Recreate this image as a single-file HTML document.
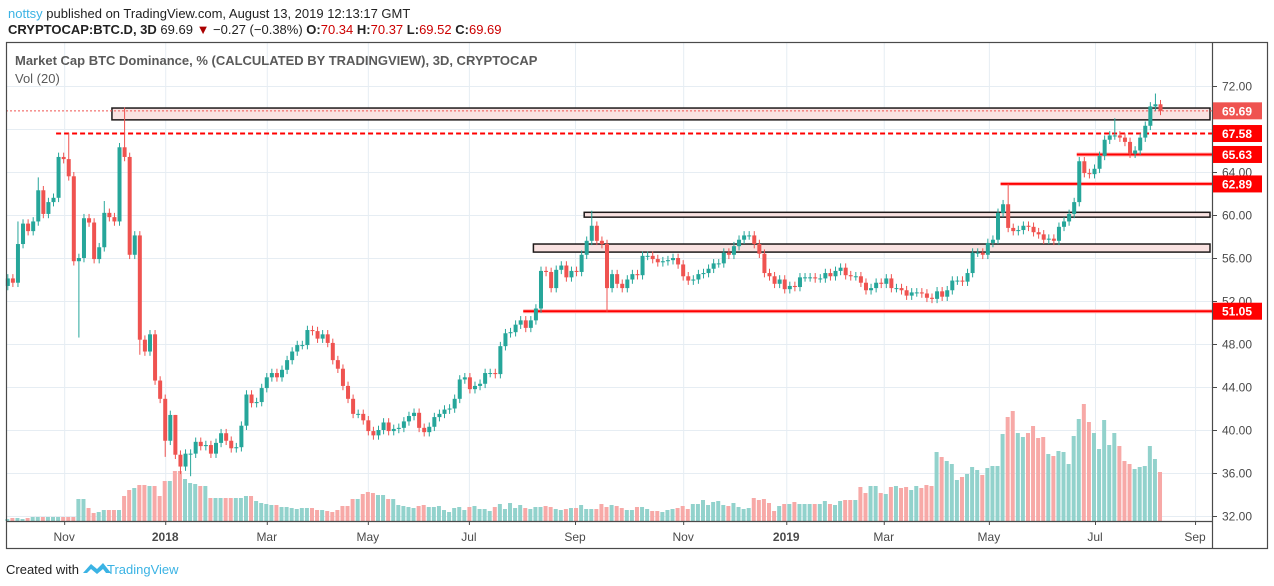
<!DOCTYPE html>
<html><head><meta charset="utf-8"><style>
body{margin:0;background:#fff;width:1274px;height:586px;overflow:hidden;font-family:"Liberation Sans",sans-serif}
svg{display:block}
</style></head><body>
<svg id="c" width="1274" height="586" xmlns="http://www.w3.org/2000/svg">
<text x="8" y="18" font-size="13" fill="#222"><tspan fill="#3bb3e4">nottsy</tspan> published on TradingView.com, August 13, 2019 12:13:17 GMT</text>
<text x="8" y="34" font-size="13" fill="#222"><tspan font-weight="bold">CRYPTOCAP:BTC.D, 3D</tspan> 69.69 <tspan fill="#a00">▼</tspan> −0.27 (−0.38%) <tspan font-weight="bold">O:</tspan><tspan fill="#c00">70.34</tspan> <tspan font-weight="bold">H:</tspan><tspan fill="#c00">70.37</tspan> <tspan font-weight="bold">L:</tspan><tspan fill="#c00">69.52</tspan> <tspan font-weight="bold">C:</tspan><tspan fill="#c00">69.69</tspan></text>
<g id="grid"></g>
<g id="vol"></g>
<g id="levels"></g>
<g id="candles"></g>
<g id="axes"></g>
<rect x="6.5" y="42.5" width="1261" height="506" fill="none" stroke="#4a4a4a" stroke-width="1.2"/>
<line x1="1212.5" y1="42" x2="1212.5" y2="549" stroke="#4a4a4a" stroke-width="1.2"/>
<line x1="6" y1="521.5" x2="1212" y2="521.5" stroke="#4a4a4a" stroke-width="1.2"/>
<text x="15" y="65" font-size="13" font-weight="bold" fill="#5a5a5a">Market Cap BTC Dominance, % (CALCULATED BY TRADINGVIEW), 3D, CRYPTOCAP</text>
<text x="15" y="83" font-size="13" fill="#5a5a5a">Vol (20)</text>
<g id="labels"></g>
<text x="6" y="574" font-size="13" fill="#222">Created with</text>
<path d="M83 573 l8 -9 l6 5 l6 -6 l8 10 l-5 0 l-3 -4 l-6 5 l-6 -5 l-4 4z" fill="#3bb3e4"/>
<text x="107" y="574" font-size="13" fill="#3bb3e4">TradingView</text>
</svg>
<script>
const closes=[54.1,53.7,57.3,59.2,58.5,59.4,62.3,60.1,61.2,61.6,65.4,65.2,63.6,55.7,56.0,59.7,59.3,55.9,57.0,60.2,59.8,59.4,66.3,65.4,56.3,58.1,48.4,47.3,48.9,44.6,42.9,39.0,41.4,37.7,36.6,37.8,37.8,38.9,38.5,38.6,37.8,38.8,39.7,39.0,38.3,38.4,40.4,43.3,42.5,42.6,43.9,44.9,45.3,44.9,45.6,46.5,47.3,47.9,
47.9,49.3,49.2,48.5,48.9,48.1,46.5,45.7,44.1,42.9,41.5,41.5,40.9,39.9,39.5,40.0,40.7,39.9,40.1,40.2,40.8,41.3,41.6,40.2,39.8,40.3,41.2,41.5,41.9,42.0,42.9,44.7,44.9,43.8,44.1,44.3,45.3,45.3,45.2,47.8,49.0,49.1,49.8,50.2,49.5,50.2,51.3,54.8,54.7,53.2,54.9,55.3,54.2,54.8,54.7,56.3,57.6,
59.0,57.6,57.3,53.2,54.5,53.6,53.2,54.0,54.5,54.4,56.2,56.2,55.9,55.6,55.7,55.8,56.0,55.4,54.3,53.9,54.0,54.5,54.6,55.0,55.5,55.5,56.5,56.3,57.1,57.7,58.1,58.1,57.3,56.4,54.6,54.3,53.6,54.0,53.1,53.4,53.3,54.2,54.2,54.2,54.1,54.1,54.6,54.3,54.8,55.1,54.4,54.3,54.3,53.7,53.0,53.2,53.7,
53.6,54.1,53.2,53.2,53.0,52.5,52.8,52.8,52.7,52.3,52.2,52.9,52.4,53.0,53.9,53.9,53.8,54.6,56.5,56.5,56.3,57.4,57.7,60.2,61.0,58.8,58.5,58.6,59.0,58.9,58.4,58.2,57.7,57.8,57.6,58.9,59.4,60.1,61.2,65.0,63.9,63.8,64.3,65.5,67.0,67.4,67.4,67.2,66.8,65.7,66.0,67.2,68.3,70.1,70.3,69.69];
const firstOpen=53.4;
const volumes=[2,3,3,2,3,4,4,4,4,4,4,4,4,4,22,22,13,8,9,11,11,11,11,25,31,33,36,36,35,35,25,40,40,50,50,42,38,37,35,35,23,23,23,23,23,23,23,25,25,20,18,17,16,16,14,14,13,12,
13,13,13,11,11,10,9,11,15,15,22,22,27,29,28,26,26,22,22,16,15,14,13,15,16,14,14,15,11,9,13,14,11,14,15,12,12,10,14,17,12,18,13,16,13,12,14,14,15,14,12,11,12,13,13,16,12,
12,12,17,14,16,15,13,11,11,14,14,12,10,10,9,11,12,13,15,12,17,17,21,16,19,20,16,15,18,14,12,13,23,21,22,18,10,15,17,17,19,17,17,17,17,17,20,17,16,20,21,21,21,34,28,35,35,
28,27,34,35,33,34,31,35,33,36,35,69,64,60,57,41,44,47,54,51,46,53,55,55,87,104,110,88,84,88,95,83,84,67,65,70,69,57,85,102,117,99,88,72,101,76,88,75,60,57,52,54,55,75,62,49];
const highOverride={12:67.6,23:70.0,115:60.4,197:62.9,218:69.0,226:71.3,2:59.4,6:63.5,33:41.4,19:61.3};
const lowOverride={14:48.6,118:51.0,26:47.0,31:37.5,34:35.9,36:35.7};
const priceTicks=[72,68,64,60,56,52,48,44,40,36,32];
const timeTicks=[11.2,31.1,51.1,71.0,90.9,111.8,133.1,153.4,172.6,193.3,214.2,233.9];
const timeLabels=["Nov","2018","Mar","May","Jul","Sep","Nov","2019","Mar","May","Jul","Sep"];
const levelLines=[67.58,65.63,62.89,51.05];
const levelStart=[10,211,196,102];
const boxes=[[69.95,68.85,21],[60.25,59.8,114],[57.3,56.55,104]];
const lastPrice=69.69;

const NS="http://www.w3.org/2000/svg";
const X=i=>7.3+i*5.078;
const Y=p=>86+(72-p)*10.75;
const VY=v=>521-v;
function mk(tag,attrs,parent){const e=document.createElementNS(NS,tag);for(const k in attrs)e.setAttribute(k,attrs[k]);document.getElementById(parent).appendChild(e);return e;}
priceTicks.forEach(p=>{const e=mk('line',{x1:6,x2:1212,y1:Y(p)+.5,y2:Y(p)+.5,stroke:'#e6edf3','stroke-width':1},'grid');

});
timeTicks.forEach(t=>{const e=mk('line',{x1:X(t)+.5,x2:X(t)+.5,y1:42,y2:521,stroke:'#e6edf3','stroke-width':1},'grid');

});
closes.forEach((c,i)=>{const o=i?closes[i-1]:firstOpen;const up=c>=o;
const e=mk('rect',{x:X(i)-2,y:VY(volumes[i]),width:4,height:volumes[i],fill:up?'#92d2cc':'#f7a9a7'},'vol');

});
boxes.forEach(b=>{const e=mk('rect',{x:X(b[2])-2,y:Y(b[0]),width:1210-X(b[2])+2,height:Y(b[1])-Y(b[0]),fill:'#f9e2e1',stroke:'#1e1a1a','stroke-width':1.5},'levels');

});
{const e=mk('line',{x1:6,x2:1212,y1:Y(lastPrice),y2:Y(lastPrice),stroke:'#ef5350','stroke-width':1,'stroke-dasharray':'2 2'},'levels');

}
levelLines.forEach((p,k)=>{const x1=X(levelStart[k])-2;
if(k===0){const e=mk('line',{x1:x1,x2:1212,y1:Y(p),y2:Y(p),stroke:'#ff0000','stroke-width':2,'stroke-dasharray':'5 3'},'levels');

}
else{mk('line',{x1:x1,x2:1212,y1:Y(p),y2:Y(p),stroke:'#ffb3b3','stroke-width':4},'levels');
const e=mk('line',{x1:x1,x2:1212,y1:Y(p),y2:Y(p),stroke:'#ff0000','stroke-width':2},'levels');

}});
closes.forEach((c,i)=>{const o=i?closes[i-1]:firstOpen;const up=c>=o;const col=up?'#26a69a':'#ef5350';
const h=highOverride[i]!==undefined?highOverride[i]:Math.max(o,c)+0.4;
const l=lowOverride[i]!==undefined?lowOverride[i]:Math.min(o,c)-0.4;
const w=mk('line',{x1:X(i)+.5,x2:X(i)+.5,y1:Y(h),y2:Y(l),stroke:col,'stroke-width':1},'candles');


const top=Y(Math.max(o,c)),bh=Math.max(1,Math.abs(Y(o)-Y(c)));
const b=mk('rect',{x:X(i)-1.5,y:top,width:4,height:bh,fill:col},'candles');

});
priceTicks.forEach(p=>{mk('line',{x1:1212,x2:1217,y1:Y(p)+.5,y2:Y(p)+.5,stroke:'#4a4a4a'},'axes');
const t=mk('text',{x:1222,y:Y(p)+4.5,'font-size':12,fill:'#4a4a4a'},'axes');t.textContent=p.toFixed(2);

});
timeTicks.forEach((tk,k)=>{mk('line',{x1:X(tk)+.5,x2:X(tk)+.5,y1:521,y2:525,stroke:'#4a4a4a'},'axes');
const t=mk('text',{x:X(tk),y:541,'font-size':12,fill:'#4a4a4a','text-anchor':'middle','font-weight':(timeLabels[k].length===4?'bold':'normal')},'axes');t.textContent=timeLabels[k];

});
[lastPrice].concat(levelLines).forEach((p,k)=>{
const r=mk('rect',{x:1213,y:Y(p)-8.5,width:49,height:17,fill:k===0?'#ef5350':'#ff0000'},'labels');


const t=mk('text',{x:1222,y:Y(p)+4.5,'font-size':12,'font-weight':'bold',fill:'#fff'},'labels');t.textContent=p.toFixed(2);

});
</script>
</body></html>
